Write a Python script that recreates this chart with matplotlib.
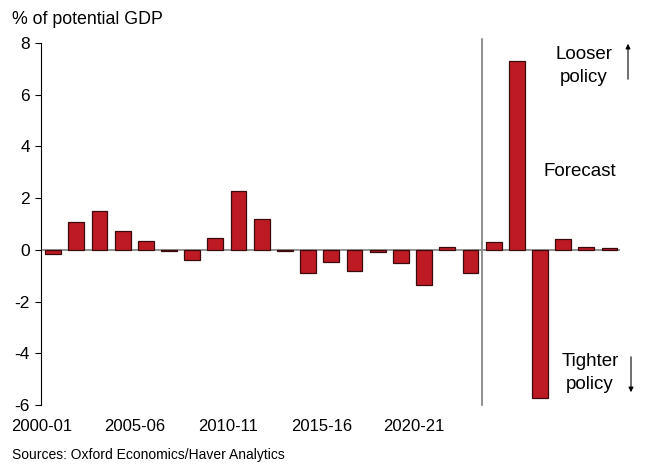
import matplotlib.pyplot as plt

plt.rcParams['font.family'] = ['Liberation Sans', 'DejaVu Sans']
plt.rcParams['axes.unicode_minus'] = False

years = ['2000-01', '2001-02', '2002-03', '2003-04', '2004-05', '2005-06', '2006-07',
         '2007-08', '2008-09', '2009-10', '2010-11', '2011-12', '2012-13', '2013-14',
         '2014-15', '2015-16', '2016-17', '2017-18', '2018-19', '2019-20', '2020-21',
         '2021-22', '2022-23', '2023-24', '2024-25']
stance = [-0.17, 1.06, 1.5, 0.74, 0.36, -0.03, -0.41, 0.45, 2.29, 1.19, -0.05, -0.9,
          -0.47, -0.83, -0.1, -0.5, -1.35, 0.12, -0.9, 0.29, 7.32, -5.72, 0.41, 0.12, 0.06]
tick_labels = ['2000-01', '2005-06', '2010-11', '2015-16', '2020-21']
tick_pos = [-0.47, 3.53, 7.54, 11.58, 15.56]

fig = plt.figure(figsize=(6.51, 4.68), dpi=100)
ax = fig.add_axes([41/651, 1-405/468, (620-41)/651, (405-43)/468])

x = range(len(stance))
ax.bar(x, stance, width=0.68, color='#be1a23', edgecolor='#3a0a0c', linewidth=0.9, zorder=3)
ax.axhline(0, color='#8c8c8c', lw=1.3, zorder=2)
ax.axvline(18.5, ymin=0, ymax=1.01, color='#707070', lw=1.1, clip_on=False, zorder=1)

ax.set_xlim(-0.52, 24.45)
ax.set_ylim(-6, 8)
ax.set_yticks(range(-6, 9, 2))
ax.set_xticks(tick_pos)
ax.set_xticklabels(tick_labels)
ax.tick_params(axis='x', length=0, labelsize=12, pad=10)
ax.tick_params(axis='y', direction='out', length=4, width=0.8, labelsize=12.5, pad=4)
for s in ['top', 'right', 'bottom']:
    ax.spines[s].set_visible(False)
ax.spines['left'].set_linewidth(0.8)

fig.text(12/651, 1-20/468, '% of potential GDP', fontsize=12.8, va='center', ha='left')
fig.text(12/651, 1-455/468, 'Sources: Oxford Economics/Haver Analytics', fontsize=10,
         va='center', ha='left')
fig.text(584/651, 1-66/468, 'Looser\npolicy', fontsize=13.5, ha='center', va='center',
         linespacing=1.4)
fig.text(580/651, 1-172/468, 'Forecast', fontsize=13.5, ha='center', va='center')
fig.text(590/651, 1-373/468, 'Tighter\npolicy', fontsize=13.5, ha='center', va='center',
         linespacing=1.4)
ax.annotate('', xy=(628/651, 1-41/468), xytext=(628/651, 1-82/468),
            xycoords='figure fraction', textcoords='figure fraction',
            arrowprops=dict(arrowstyle='-|>', color='black', lw=0.8, mutation_scale=7))
ax.annotate('', xy=(631/651, 1-395/468), xytext=(631/651, 1-354/468),
            xycoords='figure fraction', textcoords='figure fraction',
            arrowprops=dict(arrowstyle='-|>', color='black', lw=0.8, mutation_scale=7))

fig.savefig('out.png', dpi=100)
